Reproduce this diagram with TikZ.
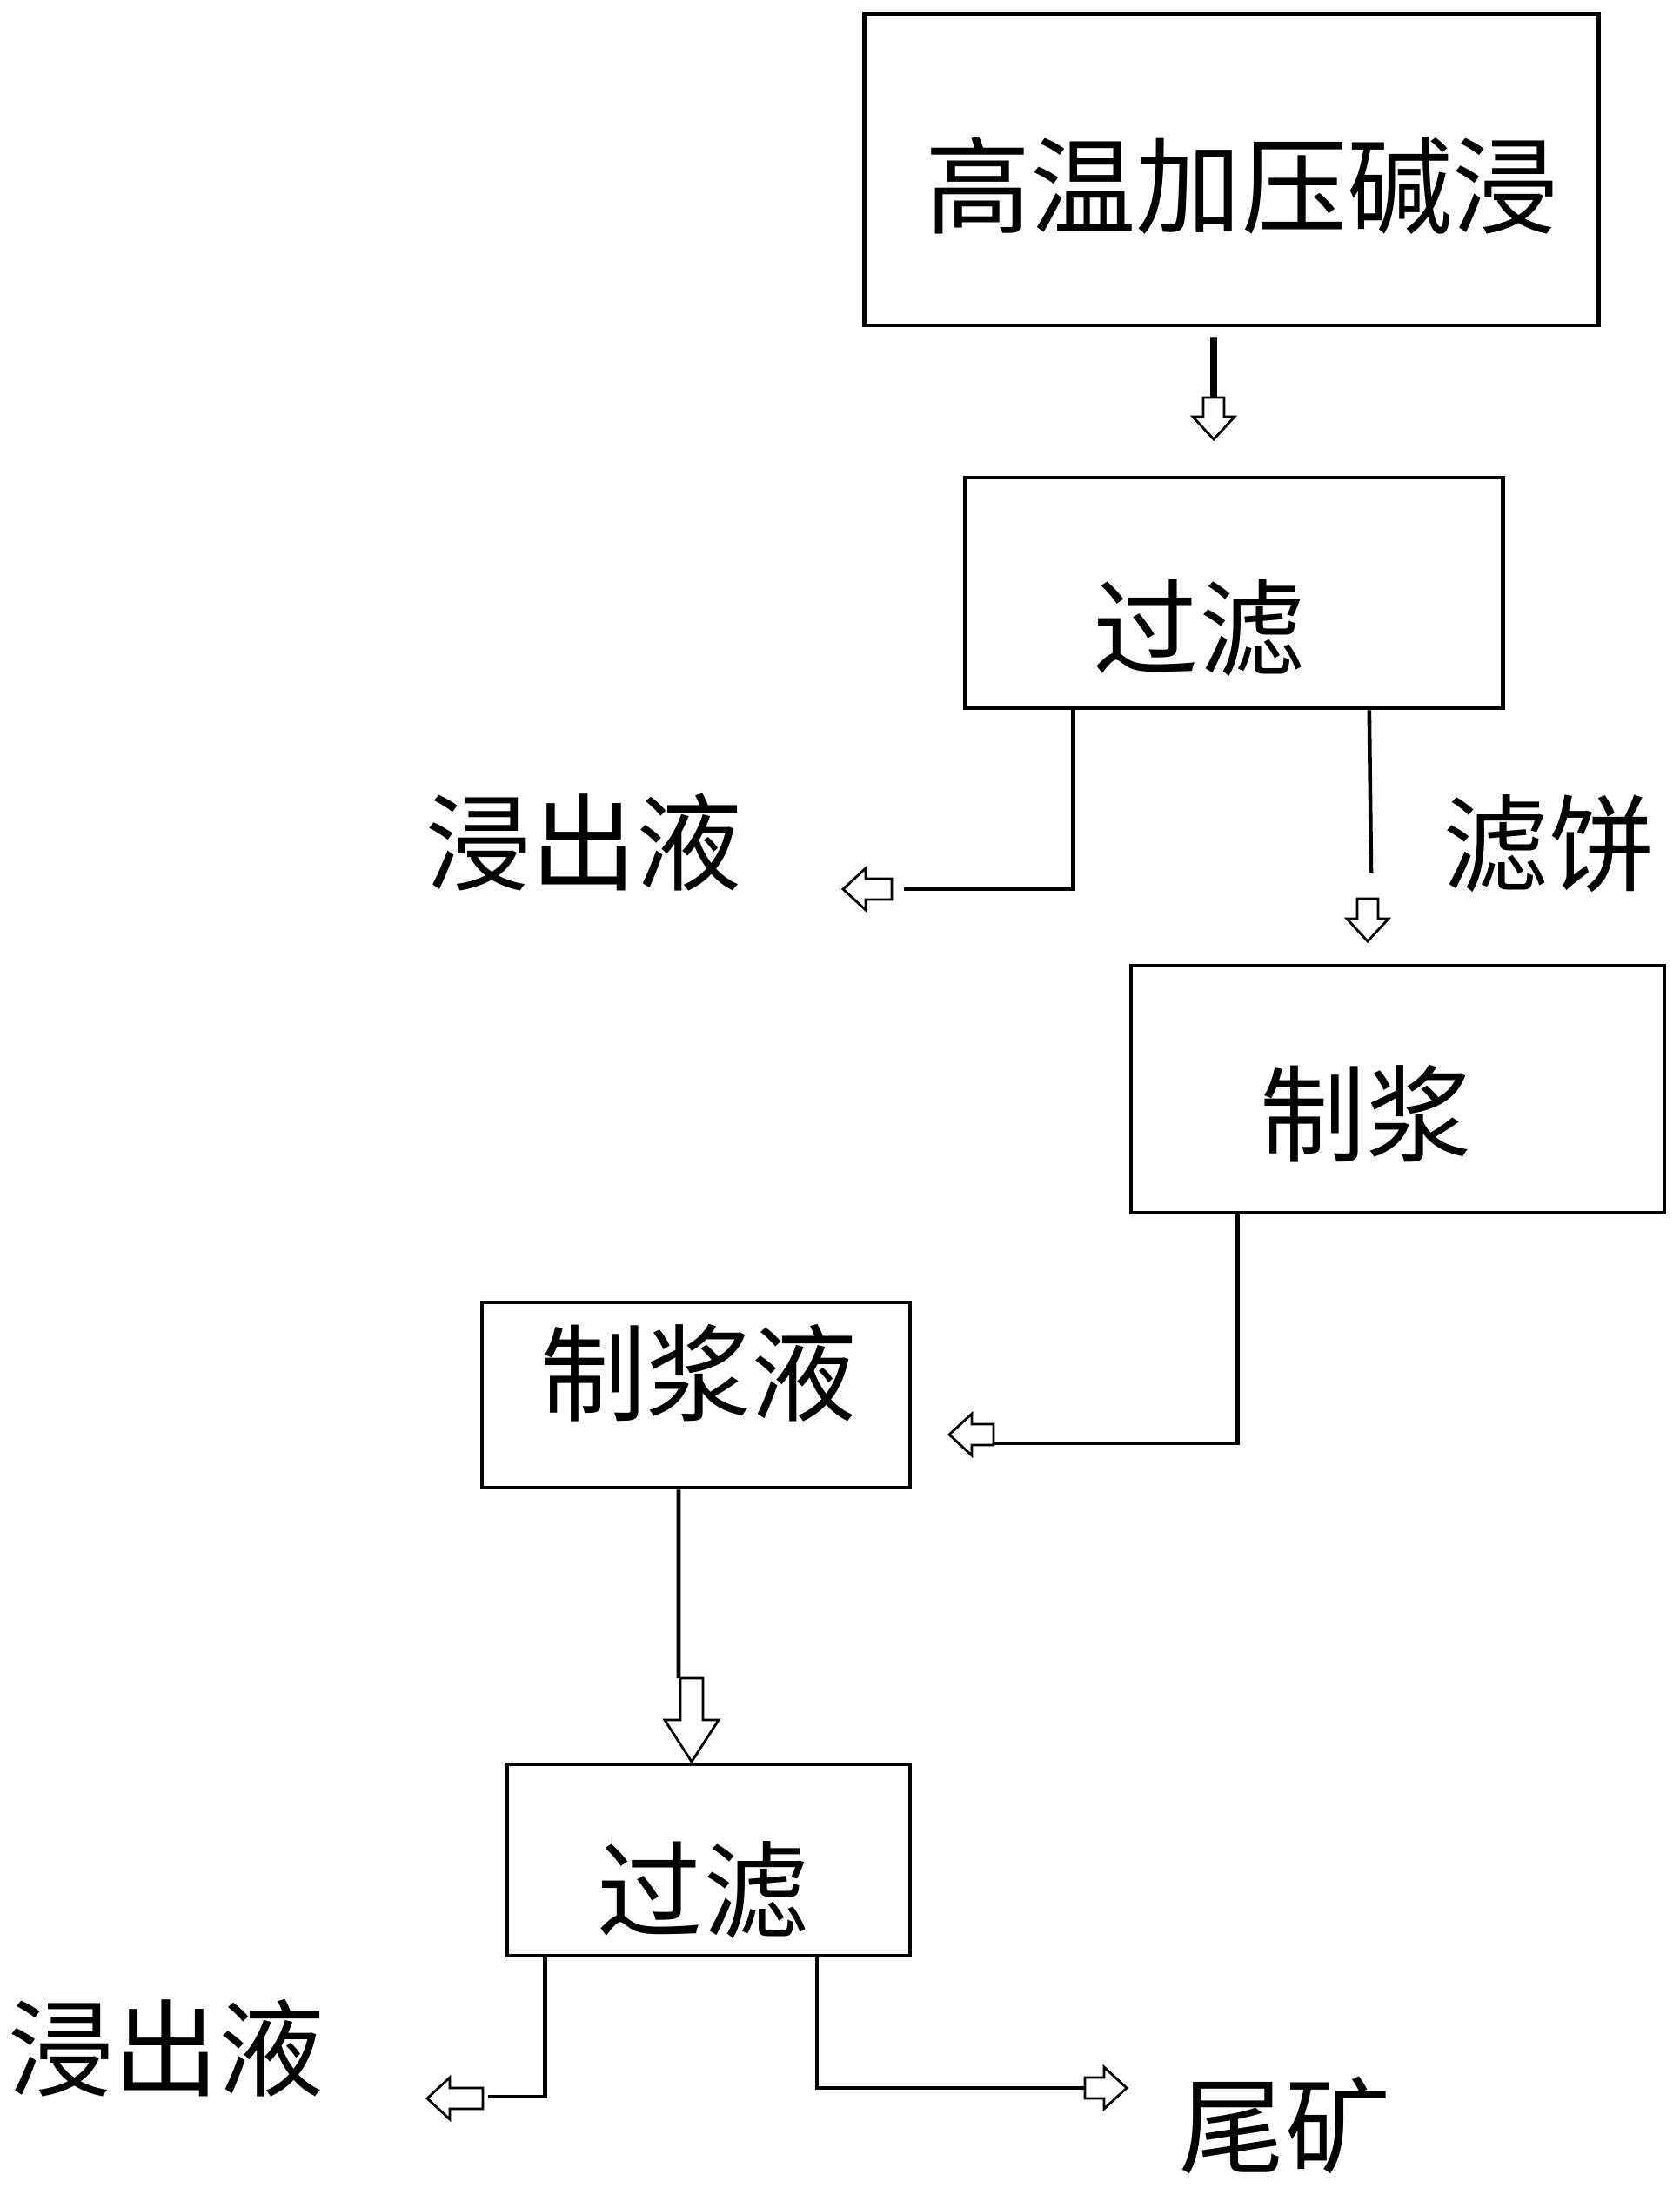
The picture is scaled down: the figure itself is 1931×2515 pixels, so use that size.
\documentclass[tikz,border=0pt]{standalone}
\usepackage{fontspec}
\newfontfamily\cjk{Noto Sans CJK SC}
\begin{document}
\begin{tikzpicture}[x=0.01cm, y=0.01cm,
    box/.style={draw, line width=1.3pt, inner sep=0pt},
    txt/.style={inner sep=0pt, font=\cjk\fontsize{34.5pt}{40pt}\selectfont},
    flow/.style={line width=1.3pt},
    pics/harrow/.style={code={
        \draw[line width=0.8pt, fill=white] (0,12) -- (#1-26,12) -- (#1-26,24) -- (#1,0)
            -- (#1-26,-24) -- (#1-26,-12) -- (0,-12) -- cycle;}},
    pics/harrow/.default=50,
    pics/bigarrow/.style={code={
        \draw[line width=0.8pt, fill=white] (0,13) -- (48,13) -- (48,31) -- (96,0)
            -- (48,-31) -- (48,-13) -- (0,-13) -- cycle;}}]
    \useasboundingbox (0,0) rectangle (1931,-2515);

    % Process boxes
    \node[box, minimum width=8.43cm, minimum height=3.58cm] (leach) at (1415.5,-195) {};
    \node[txt] (leachtxt) at (1427,-213) {高温加压碱浸};
    \node[box, minimum width=6.18cm, minimum height=2.65cm] (filter1) at (1418.5,-681.5) {};
    \node[txt] (filter1txt) at (1378,-722) {过滤};
    \node[box, minimum width=6.13cm, minimum height=2.84cm] (slurry) at (1606.5,-1252) {};
    \node[txt] (slurrytxt) at (1570,-1280) {制浆};
    \node[box, minimum width=4.92cm, minimum height=2.13cm] (slurryliq) at (800,-1603.5) {};
    \node[txt] (slurryliqtxt) at (803,-1578) {制浆液};
    \node[box, minimum width=4.63cm, minimum height=2.2cm] (filter2) at (814.5,-2138) {};
    \node[txt] (filter2txt) at (808,-2173) {过滤};

    % Product labels
    \node[txt] (leachate1) at (671,-968) {浸出液};
    \node[txt] (cake) at (1780,-970) {滤饼};
    \node[txt] (leachate2) at (191,-2354) {浸出液};
    \node[txt] (tailings) at (1477,-2443) {尾矿};

    % Leaching to filtering
    \coordinate (in1) at (1395,-457);
    \draw[line width=2.2pt] ([xshift=-0.205cm, yshift=-0.11cm]leach.south) -- (in1);
    \pic[rotate=-90] at (in1) {harrow=48};

    % First filtering outputs
    \coordinate (out1) at (1039,-1022);
    \draw[flow] ([xshift=1.265cm]filter1.south west) |- (out1);
    \pic[rotate=180] at (1025,-1022) {harrow=56};
    \coordinate (out2) at (1576,-1003);
    \draw[flow] ([xshift=4.665cm]filter1.south west) -- (out2);
    \pic[rotate=-90] at (1572,-1033) {harrow=49};

    % Slurry to slurry liquid
    \coordinate (out3) at (1142,-1659);
    \draw[flow] ([xshift=1.25cm]slurry.south west) |- (out3);
    \pic[rotate=180] at (1142,-1649) {harrow=51};

    % Slurry liquid to second filtering
    \coordinate (in2) at (780,-1929);
    \draw[flow] ([xshift=-0.2cm]slurryliq.south) -- (in2);
    \pic[rotate=-90] at (795,-1929) {bigarrow};

    % Second filtering outputs
    \coordinate (out4) at (561,-2410);
    \draw[flow] ([xshift=0.46cm]filter2.south west) |- (out4);
    \pic[rotate=180] at (555,-2412) {harrow=64};
    \coordinate (out5) at (1247,-2400);
    \draw[flow] ([xshift=3.58cm]filter2.south west) |- (out5);
    \pic at (out5) {harrow=48};
\end{tikzpicture}
\end{document}
